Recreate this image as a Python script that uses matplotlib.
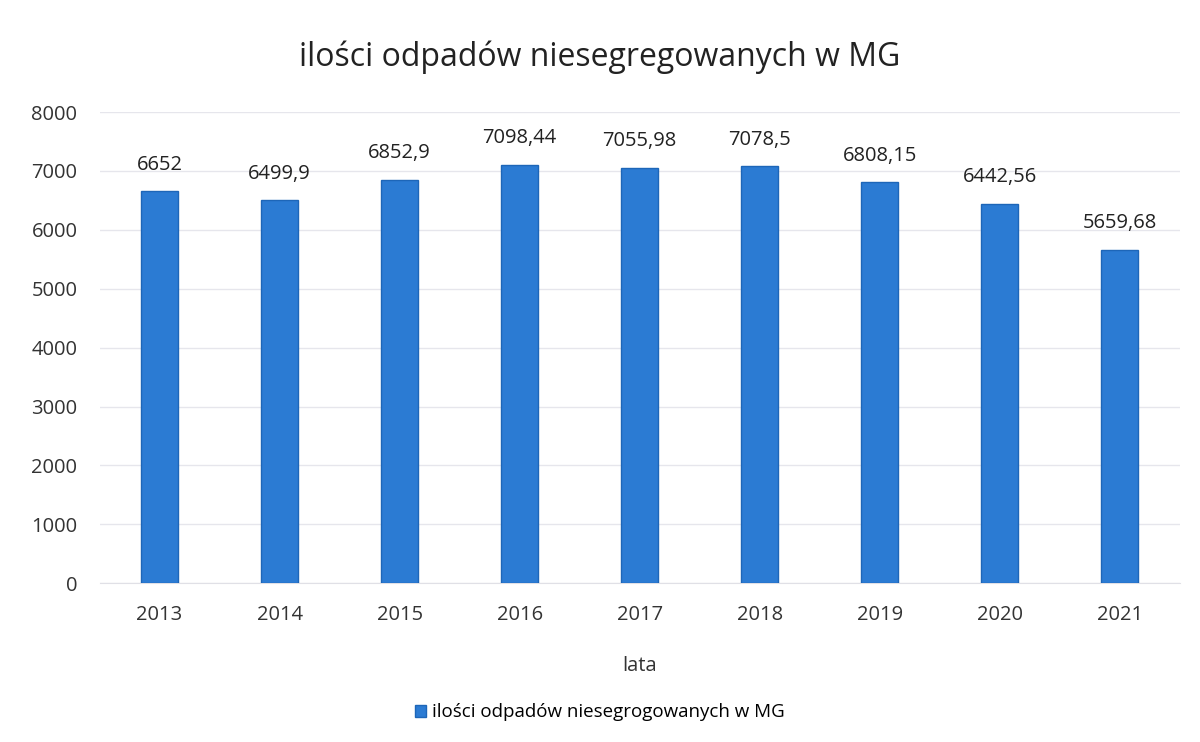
import matplotlib.pyplot as plt

plt.rcParams['font.family'] = ['Open Sans', 'DejaVu Sans']

# data
years = ["2013", "2014", "2015", "2016", "2017", "2018", "2019", "2020", "2021"]
amounts = [6652, 6499.9, 6852.9, 7098.44, 7055.98, 7078.5, 6808.15, 6442.56, 5659.68]
series_name = "ilości odpadów niesegrogowanych w MG"

fig = plt.figure(figsize=(12, 7.42), dpi=100)
ax = fig.add_axes([0.083, 0.214, 0.9, 0.635])

x = range(len(years))
bars = ax.bar(x, amounts, width=0.31, color="#2b7bd3", edgecolor="#1d66b8",
              linewidth=1, label=series_name, zorder=3)

for xi, v in zip(x, amounts):
    ax.annotate(f"{v:g}".replace(".", ","), (xi, v), xytext=(0, 12),
                textcoords="offset points", ha="center", va="bottom",
                fontsize=14.5, color="#222222")

ax.set_xlim(-0.5, len(years) - 0.5)
ax.set_ylim(0, 8000)
ax.set_yticks(range(0, 8001, 1000))
ax.set_xticks(list(x))
ax.set_xticklabels(years)
ax.tick_params(axis="both", length=0, labelsize=14.5, colors="#333333")
ax.tick_params(axis="x", pad=16)
ax.tick_params(axis="y", pad=16)

ax.grid(axis="y", color="#e6e6ec", linewidth=1, zorder=0)
for side in ["top", "right", "left"]:
    ax.spines[side].set_visible(False)
ax.spines["bottom"].set_color("#e0e0e6")

ax.set_xlabel("lata", fontsize=14.5, color="#333333", labelpad=22)
fig.suptitle("ilości odpadów niesegregowanych w MG", fontsize=23,
             color="#222222", y=0.945)

fig.legend(handles=[bars], labels=[series_name], loc="center",
           bbox_to_anchor=(0.5, 0.04), frameon=False, fontsize=13.5,
           handlelength=0.6, handleheight=0.6, handletextpad=0.3)

fig.savefig("out.png", dpi=100)
plt.close(fig)
